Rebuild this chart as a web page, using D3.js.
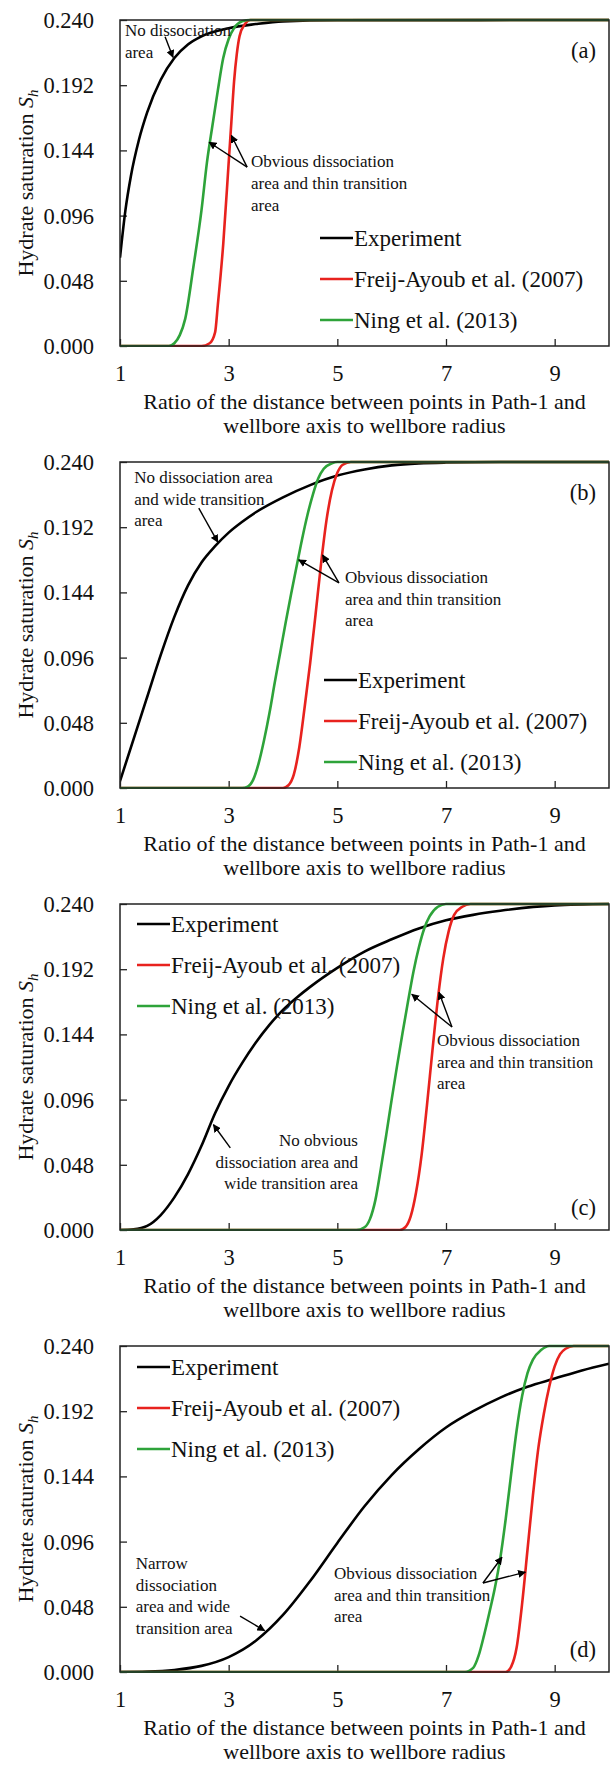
<!DOCTYPE html>
<html>
<head>
<meta charset="utf-8">
<script src="https://cdn.jsdelivr.net/npm/d3@7"></script>
<style>
  html, body { margin: 0; padding: 0; background: #fff; }
  svg { display: block; }
  svg text { font-family: "Liberation Serif", "Times New Roman", serif; }
</style>
</head>
<body>
<svg id="fig" width="611" height="1765"></svg>
<script>
// Hydrate saturation profiles along Path-1, four stages (a)-(d)
const seriesNames = ["Experiment", "Freij-Ayoub et al. (2007)", "Ning et al. (2013)"];
const seriesColors = ["#000000", "#e8221e", "#2ea33a"];
const panelLabels = ["(a)", "(b)", "(c)", "(d)"];
const xTicks = [1, 3, 5, 7, 9];
const yTicks = [0, 0.048, 0.096, 0.144, 0.192, 0.240];

// Stage (a)
const expA = [[1,0.065],[1.1,0.1],[1.2,0.125],[1.35,0.152],[1.5,0.172],[1.75,0.196],[2,0.212],[2.25,0.222],[2.5,0.228],[3,0.234],[3.5,0.237],[4,0.239],[5,0.2398],[10,0.24]];
const freijA = [[1,0],[2.5,0],[2.65,0.002],[2.75,0.01],[2.8,0.03],[2.9,0.075],[3.0,0.135],[3.05,0.165],[3.1,0.195],[3.15,0.215],[3.2,0.228],[3.3,0.237],[3.4,0.24],[10,0.24]];
const ningA = [[1,0],[1.9,0],[2.0,0.002],[2.1,0.008],[2.2,0.02],[2.35,0.058],[2.5,0.1],[2.6,0.135],[2.7,0.162],[2.8,0.188],[2.9,0.212],[3.0,0.226],[3.1,0.234],[3.25,0.239],[3.4,0.24],[10,0.24]];

// Stage (b)
const expB = [[1,0.005],[1.25,0.036],[1.5,0.067],[1.75,0.098],[2,0.126],[2.25,0.149],[2.5,0.166],[2.75,0.178],[3,0.188],[3.25,0.196],[3.5,0.203],[4,0.214],[4.5,0.223],[5,0.23],[5.5,0.2345],[6,0.2375],[6.5,0.239],[7,0.2396],[8,0.24],[10,0.24]];
const freijB = [[1,0],[4.0,0],[4.1,0.002],[4.2,0.01],[4.3,0.03],[4.4,0.06],[4.5,0.092],[4.6,0.128],[4.7,0.165],[4.8,0.197],[4.9,0.219],[5.0,0.232],[5.1,0.238],[5.25,0.24],[10,0.24]];
const ningB = [[1,0],[3.25,0],[3.35,0.001],[3.45,0.006],[3.55,0.018],[3.65,0.035],[3.75,0.055],[3.85,0.078],[3.95,0.1],[4.05,0.122],[4.15,0.143],[4.25,0.163],[4.35,0.183],[4.45,0.201],[4.55,0.216],[4.65,0.228],[4.75,0.235],[4.9,0.239],[5.0,0.24],[10,0.24]];

// Stage (c)
const expC = [[1,0],[1.25,0.0005],[1.5,0.003],[1.75,0.011],[2,0.024],[2.25,0.041],[2.5,0.062],[2.75,0.086],[3,0.106],[3.25,0.123],[3.5,0.138],[3.75,0.151],[4,0.162],[4.25,0.171],[4.5,0.179],[5,0.193],[5.5,0.205],[6,0.214],[6.5,0.222],[7,0.228],[7.5,0.232],[8,0.235],[9,0.239],[10,0.24]];
const freijC = [[1,0],[6.15,0],[6.25,0.002],[6.35,0.01],[6.45,0.028],[6.55,0.055],[6.65,0.092],[6.75,0.132],[6.85,0.17],[6.95,0.2],[7.05,0.22],[7.15,0.232],[7.3,0.238],[7.45,0.24],[10,0.24]];
const ningC = [[1,0],[5.35,0],[5.5,0.002],[5.6,0.008],[5.7,0.022],[5.8,0.045],[5.9,0.07],[6.0,0.096],[6.1,0.121],[6.2,0.145],[6.3,0.168],[6.4,0.19],[6.5,0.208],[6.6,0.222],[6.7,0.231],[6.85,0.238],[7.0,0.24],[10,0.24]];

// Stage (d)
const expD = [[1,0],[1.5,0.0003],[2,0.0015],[2.5,0.0045],[3,0.011],[3.5,0.023],[4,0.042],[4.5,0.067],[5,0.095],[5.5,0.122],[6,0.145],[6.5,0.164],[7,0.18],[7.5,0.192],[8,0.202],[8.5,0.21],[9,0.216],[9.5,0.222],[10,0.227]];
const freijD = [[1,0],[8.1,0],[8.2,0.004],[8.3,0.018],[8.4,0.05],[8.5,0.09],[8.6,0.13],[8.7,0.165],[8.8,0.19],[8.9,0.21],[9.0,0.225],[9.1,0.234],[9.2,0.238],[9.35,0.24],[10,0.24]];
const ningD = [[1,0],[7.35,0],[7.5,0.003],[7.6,0.012],[7.7,0.027],[7.8,0.044],[7.9,0.062],[8.0,0.084],[8.1,0.113],[8.2,0.146],[8.3,0.178],[8.4,0.203],[8.5,0.22],[8.6,0.23],[8.75,0.237],[8.9,0.24],[10,0.24]];

const panelSeries = [
  [expA, freijA, ningA],
  [expB, freijB, ningB],
  [expC, freijC, ningC],
  [expD, freijD, ningD]
];

// Callout notes, anchored in data space: text lines, arrows (from -> to)
const notes = [
  [
    { x: 1.09, y: 0.2325, anchor: "start", lines: ["No dissociation", "area"], arrows: [[[1.83, 0.2276], [1.975, 0.2125]]] },
    { x: 3.41, y: 0.1361, anchor: "start", lines: ["Obvious dissociation", "area and thin transition", "area"],
      arrows: [[[3.34, 0.1317], [2.64, 0.150]], [[3.34, 0.1317], [3.05, 0.155]]] }
  ],
  [
    { x: 1.26, y: 0.229, anchor: "start", lines: ["No dissociation area", "and wide transition", "area"], arrows: [[[2.45, 0.206], [2.80, 0.181]]] },
    { x: 5.14, y: 0.1553, anchor: "start", lines: ["Obvious dissociation", "area and thin transition", "area"],
      arrows: [[[5.03, 0.151], [4.29, 0.168]], [[5.03, 0.151], [4.73, 0.1715]]] }
  ],
  [
    { x: 5.38, y: 0.0663, anchor: "end", lines: ["No obvious", "dissociation area and", "wide transition area"], arrows: [[[3.03, 0.0604], [2.72, 0.0775]]] },
    { x: 6.835, y: 0.1399, anchor: "start", lines: ["Obvious dissociation", "area and thin transition", "area"],
      arrows: [[[7.11, 0.1494], [6.37, 0.1735]], [[7.11, 0.1494], [6.87, 0.175]]] }
  ],
  [
    { x: 1.29, y: 0.0802, anchor: "start", lines: ["Narrow", "dissociation", "area and wide", "transition area"], arrows: [[[3.21, 0.0412], [3.66, 0.0305]]] },
    { x: 4.94, y: 0.0729, anchor: "start", lines: ["Obvious dissociation", "area and thin transition", "area"],
      arrows: [[[7.68, 0.0655], [8.03, 0.0845]], [[7.68, 0.0655], [8.46, 0.0735]]] }
  ]
];

const svg = d3.select("#fig");
const plotLeft = 120, plotRight = 609, plotH = 326;
const panelTops = [20, 462, 904, 1346];
const legendPos = [[320, 218], [324, 218], [137, 20], [137, 21]];
const labelAtBottom = [false, false, true, true];

const defs = svg.append("defs");
defs.append("marker")
  .attr("id", "arrowhead")
  .attr("viewBox", "0 0 10 10")
  .attr("refX", 9).attr("refY", 5)
  .attr("markerWidth", 8).attr("markerHeight", 8)
  .attr("markerUnits", "userSpaceOnUse")
  .attr("orient", "auto")
  .append("path").attr("d", "M0,0 L10,5 L0,10 z").attr("fill", "#000");

panelTops.forEach((top, i) => {
  const bottom = top + plotH;
  const x = d3.scaleLinear().domain([1, 10]).range([plotLeft, plotRight]);
  const y = d3.scaleLinear().domain([0, 0.24]).range([bottom, top]);
  const g = svg.append("g");

  const clipId = "clip" + i;
  defs.append("clipPath").attr("id", clipId)
    .append("rect").attr("x", plotLeft).attr("y", top - 2)
    .attr("width", plotRight - plotLeft).attr("height", plotH + 3);

  // axes with inward ticks
  const xAxis = d3.axisBottom(x).tickValues(xTicks).tickSize(-7).tickFormat(d3.format("d"));
  const yAxis = d3.axisLeft(y).tickValues(yTicks).tickSize(-7).tickFormat(d3.format(".3f"));

  const gx = g.append("g").attr("transform", `translate(0,${bottom})`).call(xAxis);
  const gy = g.append("g").attr("transform", `translate(${plotLeft},0)`).call(yAxis);
  [gx, gy].forEach(a => {
    a.attr("font-family", null).attr("font-size", null);
    a.select(".domain").remove();
    a.selectAll(".tick line").attr("stroke", "#222").attr("stroke-width", 1.3);
    a.selectAll(".tick text").attr("fill", "#111").attr("font-size", 22.5);
  });
  gx.selectAll(".tick text").attr("dy", null).attr("y", 35);
  gy.selectAll(".tick text").attr("dy", "0.33em").attr("x", -26);

  // curves
  const line = d3.line().x(d => x(d[0])).y(d => y(d[1])).curve(d3.curveMonotoneX);
  const curves = g.append("g").attr("clip-path", `url(#${clipId})`);
  panelSeries[i].forEach((s, k) => {
    curves.append("path").datum(s)
      .attr("d", line)
      .attr("fill", "none")
      .attr("stroke", seriesColors[k])
      .attr("stroke-width", 2.6)
      .attr("stroke-linejoin", "round");
  });

  // frame
  g.append("rect").attr("x", plotLeft).attr("y", top)
    .attr("width", plotRight - plotLeft).attr("height", plotH)
    .attr("fill", "none").attr("stroke", "#222").attr("stroke-width", 1.5);

  // legend
  const [lx, ly] = legendPos[i];
  seriesNames.forEach((name, k) => {
    const yy = top + ly + k * 41;
    g.append("line").attr("x1", lx).attr("x2", lx + 33).attr("y1", yy).attr("y2", yy)
      .attr("stroke", seriesColors[k]).attr("stroke-width", 2.6);
    g.append("text").attr("x", lx + 34).attr("y", yy + 8)
      .attr("font-size", 23).attr("fill", "#111").text(name);
  });

  // panel label
  g.append("text")
    .attr("x", 596)
    .attr("y", labelAtBottom[i] ? bottom - 15 : top + 38)
    .attr("text-anchor", "end").attr("font-size", 22.5).attr("fill", "#111")
    .text(panelLabels[i]);

  // callouts
  notes[i].forEach(n => {
    const t = g.append("text").attr("font-size", 17).attr("fill", "#111")
      .attr("text-anchor", n.anchor);
    n.lines.forEach((s, j) => {
      t.append("tspan").attr("x", x(n.x)).attr("y", y(n.y) + 6 + j * 21.7).text(s);
    });
    n.arrows.forEach(([from, to]) => {
      g.append("line")
        .attr("x1", x(from[0])).attr("y1", y(from[1]))
        .attr("x2", x(to[0])).attr("y2", y(to[1]))
        .attr("stroke", "#000").attr("stroke-width", 1.4)
        .attr("marker-end", "url(#arrowhead)");
    });
  });

  // y-axis title
  const yt = g.append("text")
    .attr("transform", `translate(33,${(top + bottom) / 2}) rotate(-90)`)
    .attr("text-anchor", "middle").attr("font-size", 22).attr("fill", "#111");
  yt.append("tspan").text("Hydrate saturation ");
  yt.append("tspan").attr("font-style", "italic").text("S");
  yt.append("tspan").attr("font-style", "italic").attr("font-size", 15).attr("dy", 5).text("h");

  // x-axis title
  const cx = (plotLeft + plotRight) / 2;
  g.append("text").attr("x", cx).attr("y", bottom + 63)
    .attr("text-anchor", "middle").attr("font-size", 22).attr("fill", "#111")
    .text("Ratio of the distance between points in Path-1 and");
  g.append("text").attr("x", cx).attr("y", bottom + 87)
    .attr("text-anchor", "middle").attr("font-size", 22).attr("fill", "#111")
    .text("wellbore axis to wellbore radius");
});
</script>
</body>
</html>
